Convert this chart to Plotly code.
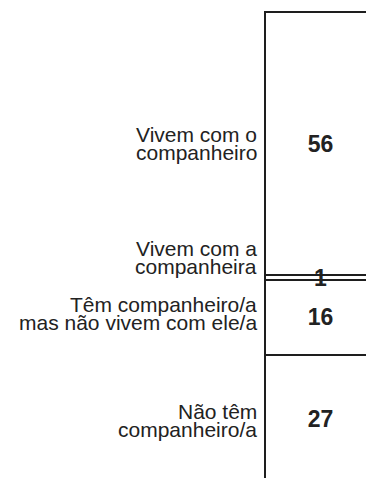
import plotly.graph_objects as go

# categorias de cima para baixo
categorias = [
    ["Vivem com o", "companheiro"],
    ["Vivem com a", "companheira"],
    ["Têm companheiro/a", "mas não vivem com ele/a"],
    ["Não têm", "companheiro/a"],
]
valores = [56, 1, 16, 27]

# deslocamento vertical dos rótulos (px) para não se sobreporem
desloc = [0, 20, 4, -2]

TXT = "#222222"
FONTE = "Liberation Sans, Arial, sans-serif"

fig = go.Figure()

# barras empilhadas: a primeira fica em baixo
for cat, v in zip(reversed(categorias), reversed(valores)):
    fig.add_trace(go.Bar(
        x=[0], y=[v], width=1,
        name=" ".join(cat),
        marker=dict(color="rgba(255,255,255,0)", line=dict(color="#1e1e1e", width=2)),
        text=[v], texttemplate="<b>%{text}</b>",
        textposition="inside", insidetextanchor="middle", textangle=0,
        constraintext="none", cliponaxis=False,
        textfont=dict(family=FONTE, size=23, color=TXT),
        hoverinfo="skip",
    ))

# rótulos das categorias à esquerda, linha a linha
base = 100
for cat, v, d in zip(categorias, valores, desloc):
    centro = base - v / 2
    base -= v
    n = len(cat)
    for i, linha in enumerate(cat):
        fig.add_annotation(
            x=-0.5, y=centro, xref="x", yref="y",
            text=linha, showarrow=False,
            xanchor="right", yanchor="middle",
            xshift=-6, yshift=d + (n - 1) * 9.2 - i * 18.4,
            font=dict(family=FONTE, size=21, color=TXT),
        )

fig.update_layout(
    width=374, height=478,
    margin=dict(l=250, r=0, t=3, b=0),
    barmode="stack",
    showlegend=False,
    plot_bgcolor="white", paper_bgcolor="white",
    uniformtext=dict(minsize=23, mode="show"),
)
fig.update_xaxes(range=[-0.563, 0.554], visible=False, fixedrange=True)
fig.update_yaxes(range=[-0.86, 100.2], visible=False, fixedrange=True)

fig.write_html("out.html")
